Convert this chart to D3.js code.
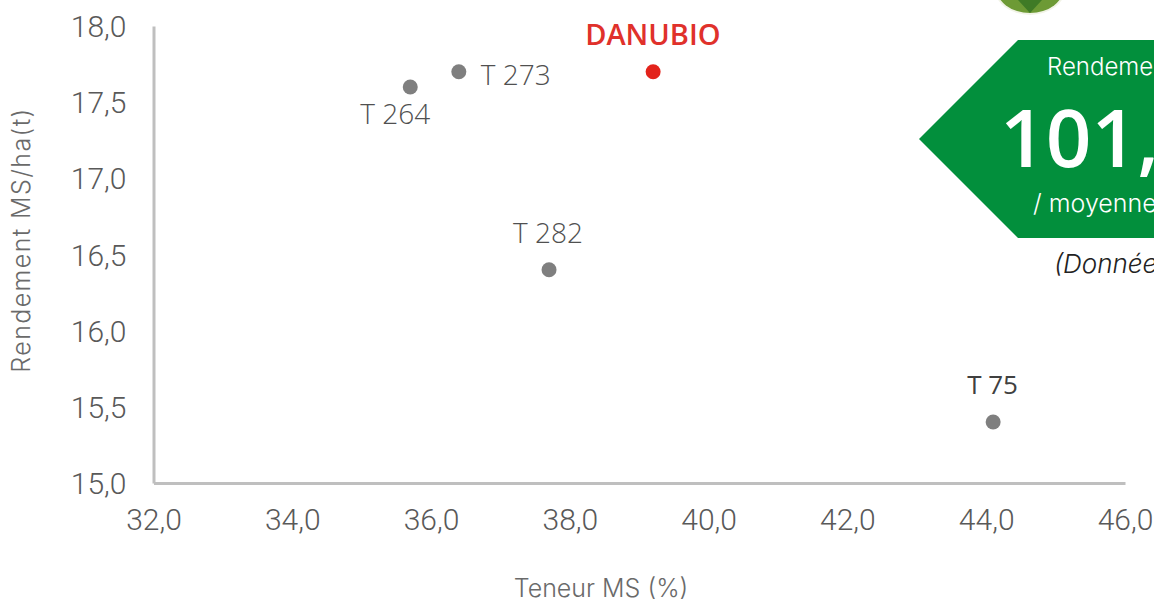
<!DOCTYPE html>
<html>
<head>
<meta charset="utf-8">
<script src="https://cdn.jsdelivr.net/npm/d3@7"></script>
<style>
    html, body { margin: 0; padding: 0; background: #fff; overflow: hidden; }
    svg { display: block; }
    .tick text { font-family: Roboto, sans-serif; font-weight: 300; font-size: 30px; fill: #595959; }
    .axis-title { font-family: Inter, sans-serif; font-weight: 300; font-size: 25px; fill: #6a6a6a; }
    .point-label { font-family: "Open Sans", sans-serif; font-size: 28px; fill: #505050; }
</style>
</head>
<body>
<svg id="chart" width="1154" height="600"></svg>
<script>
var names = ["T 264", "T 273", "DANUBIO", "T 282", "T 75"]
var teneurMS = [35.7, 36.4, 39.2, 37.7, 44.1]
var rendement = [17.6, 17.7, 17.7, 16.4, 15.4]
var xTicks = [32, 34, 36, 38, 40, 42, 44, 46]
var yTicks = [15, 15.5, 16, 16.5, 17, 17.5, 18]

var svg = d3.select("#chart")
var comma = d3.format(".1f")
function tickText(d) { return comma(d).replace(".", ",") }

var xScale = d3.scaleLinear().domain([32, 46]).range([153.5, 1125])
var yScale = d3.scaleLinear().domain([15, 18]).range([483, 26])

// logo peeking in at the top of the picture
var logo = svg.append("g")
logo.append("ellipse").attr("cx", 1030).attr("cy", -13).attr("rx", 36).attr("ry", 28).attr("fill", "#f1f3e6")
logo.append("ellipse").attr("cx", 1030).attr("cy", -13).attr("rx", 34).attr("ry", 26).attr("fill", "#6d9a35")
logo.append("path").attr("d", "M1018,0 L1030,13 L1042,0 Z").attr("fill", "#3f7a26")

// axes
var xAxis = svg.append("g")
    .attr("transform", "translate(0,483)")
    .call(d3.axisBottom(xScale).tickValues(xTicks).tickFormat(tickText).tickSize(0).tickPadding(26))
var yAxis = svg.append("g")
    .attr("transform", "translate(153.5,1)")
    .call(d3.axisLeft(yScale).tickValues(yTicks).tickFormat(tickText).tickSize(0).tickPadding(27))
xAxis.select(".domain").attr("stroke", "#bfbfbf").attr("stroke-width", 3)
yAxis.select(".domain").attr("stroke", "#bfbfbf").attr("stroke-width", 3).attr("transform", "translate(0,-1)")

svg.append("text").attr("class", "axis-title")
    .attr("x", 601).attr("y", 597).attr("text-anchor", "middle")
    .text("Teneur MS (%)")
svg.append("text").attr("class", "axis-title")
    .attr("transform", "translate(30,240) rotate(-90)").attr("text-anchor", "middle")
    .style("letter-spacing", "1.4px")
    .text("Rendement MS/ha(t)")

// points
svg.selectAll("circle.point")
    .data(names)
    .enter()
    .append("circle")
    .attr("class", "point")
    .attr("r", 7.5)
    .attr("cx", function(d, i) { return xScale(teneurMS[i]) })
    .attr("cy", function(d, i) { return yScale(rendement[i]) })
    .attr("fill", function(d) { return d == "DANUBIO" ? "#e3231b" : "#7f7f7f" })

// labels are hand placed around each point, like in the original
var labelDx = [-15, 22, -68, -36, -26]
var labelDy = [37, 13, -27, -27, -28]
svg.selectAll("text.point-label")
    .data(names)
    .enter()
    .append("text")
    .attr("class", "point-label")
    .attr("x", function(d, i) { return xScale(teneurMS[i]) + labelDx[i] })
    .attr("y", function(d, i) { return yScale(rendement[i]) + labelDy[i] })
    .attr("text-anchor", function(d, i) { return i == 0 ? "middle" : "start" })
    .style("font-weight", function(d) { return d == "DANUBIO" ? 600 : (d == "T 75" ? 500 : 350) })
    .style("font-size", function(d) { return d == "T 75" ? "26px" : (d == "DANUBIO" ? "29px" : "28px") })
    .style("fill", function(d) { return d == "DANUBIO" ? "#e0312b" : (d == "T 75" ? "#404040" : null) })
    .text(function(d) { return d })

// green callout, cut by the right edge of the picture
var callout = svg.append("g")
callout.append("path")
    .attr("d", "M1018,40 L1160,40 L1160,238 L1018,238 L919,139 Z")
    .attr("fill", "#028f3c")
callout.append("text").attr("x", 1000).attr("y", 167)
    .style("font-family", "'Open Sans', sans-serif").style("font-weight", 600).style("font-size", "80px").attr("fill", "#fff")
    .text("101,")
callout.append("text").attr("x", 1047).attr("y", 75)
    .style("font-family", "Inter, sans-serif").style("font-weight", 300).style("font-size", "24px").attr("fill", "#fff")
    .text("Rendement")
callout.append("text").attr("x", 1033).attr("y", 212)
    .style("font-family", "Inter, sans-serif").style("font-weight", 300).style("font-size", "25px").attr("fill", "#fff")
    .text("/ moyenne")
svg.append("text").attr("x", 1054).attr("y", 273)
    .style("font-family", "Inter, sans-serif").style("font-style", "italic").style("font-weight", 300).style("font-size", "26px").attr("fill", "#222")
    .text("(Données")
</script>
</body>
</html>
